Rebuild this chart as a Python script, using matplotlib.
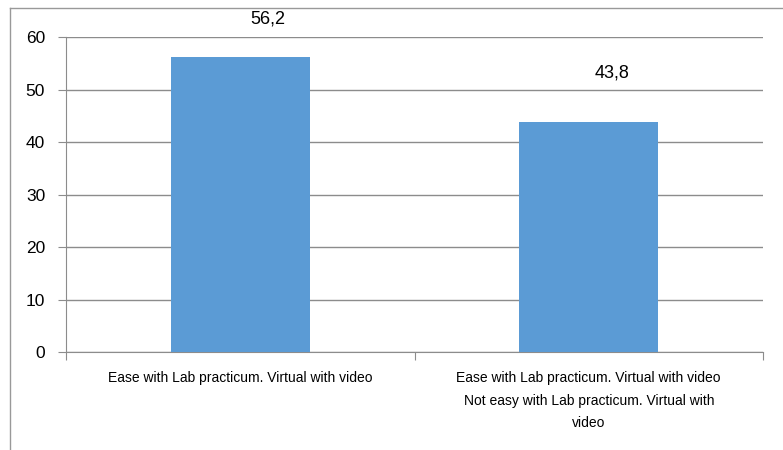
import matplotlib.pyplot as plt
from matplotlib.lines import Line2D

categories = [
    'Ease with Lab practicum. Virtual with video',
    'Ease with Lab practicum. Virtual with video\nNot easy with Lab practicum. Virtual with\nvideo',
]
values = [56.2, 43.8]
value_labels = ['56,2', '43,8']
y_ticks = [0, 10, 20, 30, 40, 50, 60]

plt.rcParams['font.family'] = ['Liberation Sans', 'DejaVu Sans']

fig = plt.figure(figsize=(7.83, 4.5), dpi=100)
ax = fig.add_axes([66 / 783, 98 / 450, 697 / 783, 315 / 450])

x = range(len(values))
ax.bar(x, values, width=0.4, color='#5B9BD5', zorder=3)

ax.set_ylim(0, 60)
ax.set_xlim(-0.5, 1.5)
ax.set_yticks(y_ticks)
ax.yaxis.grid(True, color='#8c8c8c', linewidth=1)
ax.set_axisbelow(True)

ax.set_xticks([-0.5, 0.5, 1.5])
ax.set_xticklabels([])
ax.set_xticks(list(x), minor=True)
ax.set_xticklabels(categories, minor=True, fontsize=10, linespacing=1.75, va='top')
ax.tick_params(axis='x', which='minor', length=0, pad=14)
ax.tick_params(axis='x', which='major', length=6, color='#8c8c8c')
ax.tick_params(axis='y', length=6, color='#8c8c8c', labelsize=12.5, pad=9)

for s in ['top', 'right']:
    ax.spines[s].set_visible(False)
for s in ['left', 'bottom']:
    ax.spines[s].set_color('#8c8c8c')

offsets = [(20, 21), (17, 29)]
for xi, v, lab, off in zip(x, values, value_labels, offsets):
    ax.annotate(lab, (xi, v), xytext=off, textcoords='offset points',
                ha='center', va='bottom', fontsize=13)

fig.add_artist(Line2D([10 / 783, 10 / 783], [0, 442 / 450], color='#999999', lw=1))
fig.add_artist(Line2D([10 / 783, 1], [442 / 450, 442 / 450], color='#999999', lw=1))

fig.savefig('out.png', dpi=100)
